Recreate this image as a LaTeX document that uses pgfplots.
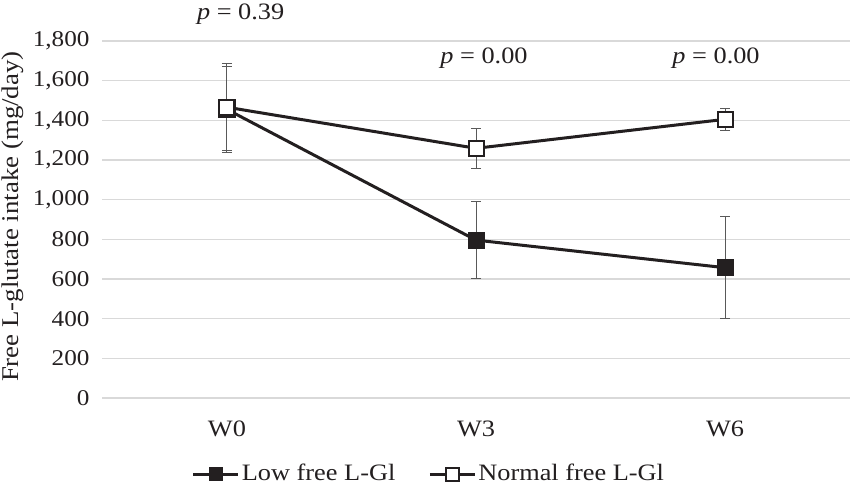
\documentclass[border=0pt]{standalone}
\usepackage{fontspec}
\setmainfont[FakeStretch=1.12]{Liberation Serif}
\usepackage{pgfplots}
\pgfplotsset{compat=1.18}
\definecolor{ink}{HTML}{231F20}
\definecolor{gridc}{HTML}{D9D9D9}
\definecolor{errc}{HTML}{595959}
\begin{document}
\fontsize{23.5}{27}\selectfont
\begin{tikzpicture}[x=1pt,y=1pt]
\path[use as bounding box] (-102.5,-94) rectangle (751.5,398);
\begin{axis}[at={(0,0)}, anchor=south west, scale only axis,
  width=747pt, height=357pt,
  xmin=-0.5, xmax=2.5, ymin=0, ymax=1800,
  axis line style={draw=none}, major tick length=0pt,
  ytick={0,200,...,1800}, ymajorgrids,
  grid style={gridc, line width=1.5pt},
  xtick={0,1,2}, xticklabels={W0,W3,W6},
  /pgf/number format/assume math mode=true,
  /pgf/number format/1000 sep={,},
  yticklabel style={font=\fontsize{22.5}{26}\selectfont, text=ink, xshift=-5pt},
  xticklabel style={font=\fontsize{23.5}{27}\selectfont, text=ink, yshift=-15pt},
  ylabel={Free L-glutate intake (mg/day)},
  ylabel style={at={(axis description cs:-0.12,0.508)}, anchor=center, font=\fontsize{24}{27}\selectfont, text=ink},
  clip=false,
  legend style={at={(0.437,-0.213)}, anchor=center, draw=none, legend columns=2,
    font=\fontsize{23.5}{27}\selectfont, text=ink,
    /tikz/nodes={inner sep=2pt},
    /tikz/every even column/.append style={column sep=31pt}},
  legend image code/.code={\draw[#1, line width=3pt, mark=none] (0pt,0pt) -- (45pt,0pt);
    \draw[#1, mark size=6.5pt] plot coordinates {(22.5pt,0pt)};},
]
\addplot[ink, line width=3pt, mark=square*, mark size=8pt,
  mark options={fill=ink, draw=ink, line width=1pt, solid},
  error bars/.cd, y dir=both, y explicit,
  error bar style={errc, line width=1pt},
  error mark options={rotate=90, errc, mark size=5pt, line width=1pt}]
  coordinates {(0,1455) +- (0,215) (1,796) +- (0,195) (2,657) +- (0,258)};
\addlegendentry{Low free L-Gl}
\addplot[ink, line width=3pt, mark=square*, mark size=7.5pt,
  mark options={fill=white, draw=ink, line width=2pt, solid},
  error bars/.cd, y dir=both, y explicit,
  error bar style={errc, line width=1pt},
  error mark options={rotate=90, errc, mark size=5pt, line width=1pt}]
  coordinates {(0,1466) +- (0,220) (1,1259) +- (0,100) (2,1405) +- (0,57)};
\addlegendentry{Normal free L-Gl}
\node[text=ink] at (axis cs:0.055,1936) {\textit{p} = 0.39};
\node[text=ink] at (axis cs:1.032,1714) {\textit{p} = 0.00};
\node[text=ink] at (axis cs:1.964,1714) {\textit{p} = 0.00};
\end{axis}
\end{tikzpicture}
\end{document}
